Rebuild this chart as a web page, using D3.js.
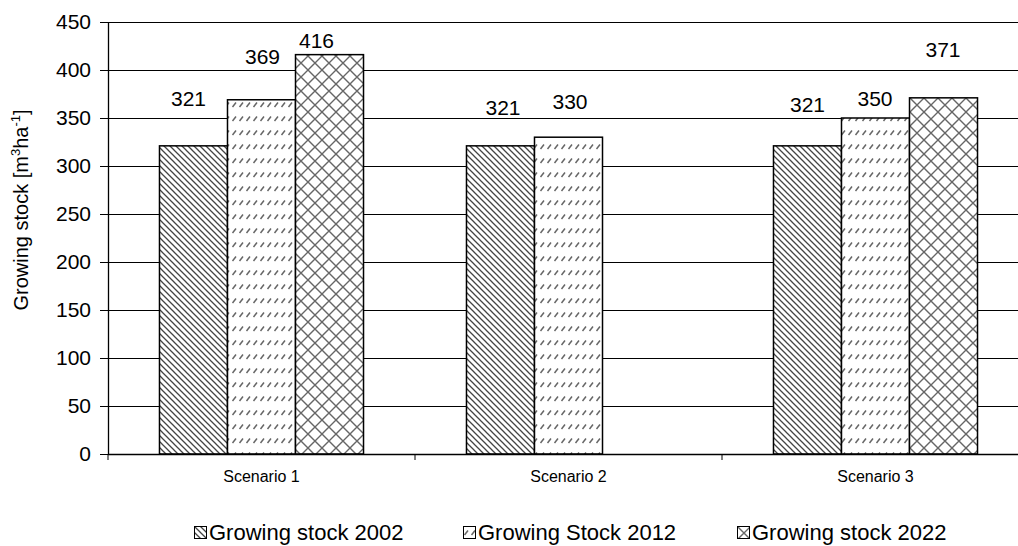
<!DOCTYPE html>
<html lang="en">
<head>
    <meta charset="utf-8">
    <title>Growing stock</title>
    <style>
        body { margin: 0; background: white; }
        svg { display: block; }
        text { font-family: "Liberation Sans", Arial, sans-serif; fill: #000; }
        .tick-label { font-size: 21px; }
        .value-label { font-size: 21px; text-anchor: middle; }
        .cat-label { font-size: 16px; text-anchor: middle; }
        .legend-label { font-size: 22px; }
        .grid { stroke: #000; stroke-width: 1; }
    </style>
    <script src="https://d3js.org/d3.v7.min.js"></script>
</head>
<body>
<svg id="chart" width="1018" height="546"></svg>
<script>
    const scenarios = ["Scenario 1", "Scenario 2", "Scenario 3"];
    const seriesNames = ["Growing stock 2002", "Growing Stock 2012", "Growing stock 2022"];
    const stock2002 = [321, 321, 321];
    const stock2012 = [369, 330, 350];
    const stock2022 = [416, null, 371];
    const yTicks = [0, 50, 100, 150, 200, 250, 300, 350, 400, 450];

    // hand placed labels in the original, offsets [dx, dy above bar top]
    const labelNudge = [
        [[-5, -40], [2.5, -31], [0, -34]],
        [[1, -36], [1.5, -28], [-0.5, -12]],
        [[-13, -7], [0, 0], [-0.5, -41]]
    ];

    const W = 1018;
    const plotLeft = 108, plotTop = 22, plotBottom = 454, catWidth = 307;
    const seriesData = [stock2002, stock2012, stock2022];

    const svg = d3.select("#chart");
    const defs = svg.append("defs");

    // hatch patterns
    const p1 = defs.append("pattern").attr("id", "p2002")
        .attr("patternUnits", "userSpaceOnUse").attr("width", 6).attr("height", 6);
    p1.append("rect").attr("width", 6).attr("height", 6).attr("fill", "white");
    p1.append("path").attr("d", "M-1,-1 L7,7 M-4,2 L1,7 M5,-1 L10,4")
        .attr("stroke", "#444").attr("stroke-width", 1.3);

    const p2 = defs.append("pattern").attr("id", "p2012")
        .attr("patternUnits", "userSpaceOnUse").attr("width", 7).attr("height", 14);
    p2.append("rect").attr("width", 7).attr("height", 14).attr("fill", "white");
    p2.append("path").attr("d", "M1.5,9 L5,4.5")
        .attr("stroke", "#666").attr("stroke-width", 1.5);

    const p3 = defs.append("pattern").attr("id", "p2022")
        .attr("patternUnits", "userSpaceOnUse").attr("width", 14).attr("height", 14);
    p3.append("rect").attr("width", 14).attr("height", 14).attr("fill", "white");
    p3.append("path").attr("d", "M0,0 L14,14 M14,0 L0,14")
        .attr("stroke", "#666").attr("stroke-width", 1.4);

    const patterns = ["url(#p2002)", "url(#p2012)", "url(#p2022)"];

    const y = d3.scaleLinear().domain([0, 450]).range([plotBottom, plotTop]);
    const x0 = d3.scaleBand().domain(scenarios)
        .range([plotLeft, plotLeft + catWidth * scenarios.length]);
    const x1 = d3.scaleBand().domain(seriesNames)
        .range([0, x0.bandwidth()]).paddingInner(0).paddingOuter(0.757);

    // gridlines
    svg.append("g").selectAll("line").data(yTicks.filter(d => d > 0)).join("line")
        .attr("class", "grid")
        .attr("x1", plotLeft).attr("x2", W)
        .attr("y1", d => Math.round(y(d)) + 0.5).attr("y2", d => Math.round(y(d)) + 0.5);

    // bars
    seriesData.forEach((vals, si) => {
        scenarios.forEach((sc, ci) => {
            const v = vals[ci];
            if (v == null) return;
            const bx = x0(sc) + x1(seriesNames[si]);
            svg.append("rect")
                .attr("x", bx).attr("y", y(v))
                .attr("width", x1.bandwidth()).attr("height", plotBottom - y(v))
                .attr("fill", patterns[si])
                .attr("stroke", "#000").attr("stroke-width", 1.5);
            const n = labelNudge[si][ci];
            svg.append("text").attr("class", "value-label")
                .attr("x", bx + x1.bandwidth() / 2 + n[0])
                .attr("y", y(v) + n[1])
                .text(v);
        });
    });

    // y axis
    const yAxis = svg.append("g").attr("transform", `translate(${plotLeft},0)`)
        .call(d3.axisLeft(y).tickValues(yTicks).tickSize(8).tickPadding(9));
    yAxis.select(".domain").attr("stroke", "#000").attr("stroke-width", 1.3)
        .attr("d", `M0.5,${plotTop}V${plotBottom}`);
    yAxis.selectAll(".tick line").attr("stroke", "#000");
    yAxis.selectAll(".tick text").attr("class", "tick-label")
        .attr("font-family", null).attr("font-size", null).attr("fill", "#000");

    // x axis
    svg.append("line").attr("x1", plotLeft).attr("x2", W)
        .attr("y1", plotBottom + 0.5).attr("y2", plotBottom + 0.5)
        .attr("stroke", "#000").attr("stroke-width", 1.5);
    const bounds = scenarios.map(s => x0(s)).concat([x0(scenarios[2]) + x0.bandwidth()]);
    svg.append("g").selectAll("line").data(bounds.filter(b => b < W)).join("line")
        .attr("x1", d => d).attr("x2", d => d)
        .attr("y1", plotBottom).attr("y2", plotBottom + 6)
        .attr("stroke", "#000");
    svg.append("g").selectAll("text").data(scenarios).join("text")
        .attr("class", "cat-label")
        .attr("x", d => x0(d) + x0.bandwidth() / 2)
        .attr("y", 482)
        .text(d => d);

    // y title
    svg.append("text")
        .attr("transform", "translate(28,210) rotate(-90)")
        .attr("text-anchor", "middle")
        .attr("font-size", 20)
        .html("Growing stock [m<tspan font-size='13' dy='-8'>3</tspan><tspan dy='8'>ha</tspan><tspan font-size='13' dy='-8'>-1</tspan><tspan dy='8'>]</tspan>");

    // legend
    const legendX = [194, 463, 737];
    seriesNames.forEach((name, i) => {
        const g = svg.append("g").attr("transform", `translate(${legendX[i]},526)`);
        g.append("rect").attr("x", 0.5).attr("y", 0.5).attr("width", 12).attr("height", 12)
            .attr("fill", patterns[i]).attr("stroke", "#000").attr("stroke-width", 1);
        g.append("text").attr("class", "legend-label")
            .attr("x", 15).attr("y", 14)
            .text(name);
    });
</script>
</body>
</html>
